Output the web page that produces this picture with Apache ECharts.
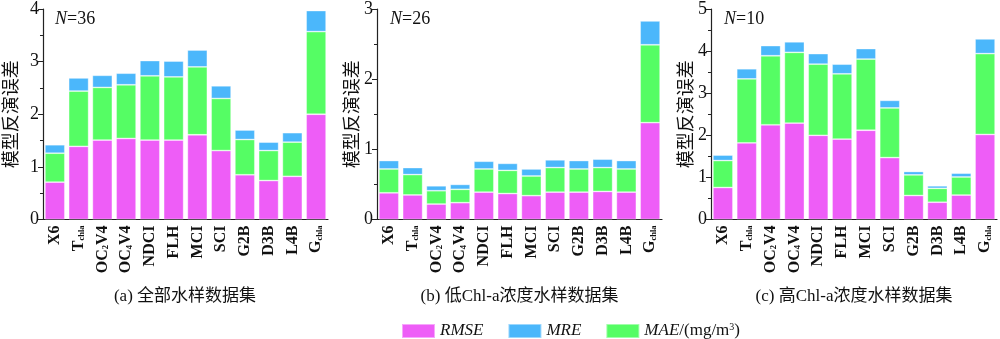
<!DOCTYPE html>
<html>
<head>
<meta charset="utf-8">
<script src="https://cdn.jsdelivr.net/npm/echarts@6/dist/echarts.min.js"></script>
<style>
  html, body { margin: 0; padding: 0; background: #fff; }
  #chart { width: 1000px; height: 339px; }
</style>
</head>
<body>
<div id="chart"></div>
<script>
// Retrieval algorithms (x-axis categories)
const categories = ['X6', 'Tchla', 'OC2V4', 'OC4V4', 'NDCI', 'FLH', 'MCI', 'SCI', 'G2B', 'D3B', 'L4B', 'Gchla'];

// (a) all samples, N=36
const rmseAll = [0.71, 1.39, 1.51, 1.54, 1.51, 1.51, 1.61, 1.31, 0.85, 0.74, 0.82, 2.00];
const maeAll  = [0.55, 1.05, 1.00, 1.02, 1.22, 1.20, 1.29, 0.99, 0.67, 0.57, 0.65, 1.57];
const mreAll  = [0.16, 0.25, 0.23, 0.22, 0.29, 0.30, 0.32, 0.24, 0.18, 0.16, 0.18, 0.40];

// (b) low Chl-a samples, N=26
const rmseLow = [0.38, 0.35, 0.22, 0.24, 0.39, 0.37, 0.34, 0.39, 0.39, 0.40, 0.39, 1.38];
const maeLow  = [0.34, 0.29, 0.19, 0.19, 0.33, 0.33, 0.28, 0.35, 0.33, 0.34, 0.33, 1.11];
const mreLow  = [0.12, 0.10, 0.07, 0.07, 0.11, 0.10, 0.10, 0.11, 0.12, 0.12, 0.12, 0.34];

// (c) high Chl-a samples, N=10
const rmseHigh = [0.76, 1.82, 2.25, 2.29, 2.00, 1.91, 2.12, 1.47, 0.57, 0.41, 0.58, 2.02];
const maeHigh  = [0.64, 1.52, 1.64, 1.68, 1.69, 1.55, 1.69, 1.18, 0.49, 0.33, 0.43, 1.92];
const mreHigh  = [0.13, 0.24, 0.24, 0.25, 0.25, 0.23, 0.25, 0.18, 0.08, 0.06, 0.09, 0.35];

const panels = [
  { n: 'N', count: '=36', title: '(a) 全部水样数据集', max: 4, rmse: rmseAll, mae: maeAll, mre: mreAll },
  { n: 'N', count: '=26', title: '(b) 低Chl-a浓度水样数据集', max: 3, rmse: rmseLow, mae: maeLow, mre: mreLow },
  { n: 'N', count: '=10', title: '(c) 高Chl-a浓度水样数据集', max: 5, rmse: rmseHigh, mae: maeHigh, mre: mreHigh }
];

const SERIF = '"Liberation Serif", "Times New Roman", serif';
const CJK = '"Noto Sans CJK SC", sans-serif';
const COLORS = { rmse: '#EE5DF7', mre: '#4BB7FB', mae: '#55FD64' };

const gridPos = [
  { left: 42, width: 286, nameGap: 24 },
  { left: 377, width: 285, nameGap: 17 },
  { left: 711, width: 286, nameGap: 16 }
];

// category labels with subscripts, drawn as rich text
function catLabel(v) {
  const map = {
    'Tchla': '{b|T}{s|chla}',
    'OC2V4': '{b|OC}{s|2}{b|V4}',
    'OC4V4': '{b|OC}{s|4}{b|V4}',
    'Gchla': '{b|G}{s|chla}'
  };
  return map[v] || '{b|' + v + '}';
}

const grids = [], xAxes = [], yAxes = [], series = [], graphics = [];

panels.forEach((p, i) => {
  grids.push({ left: gridPos[i].left, width: gridPos[i].width, top: 9, height: 210.5 });
  xAxes.push({
    type: 'category', gridIndex: i, data: categories,
    axisLine: { lineStyle: { color: '#222', width: 1.2 } },
    axisTick: { show: false },
    axisLabel: {
      rotate: 90, margin: 6, interval: 0,
      formatter: catLabel,
      rich: {
        b: { fontFamily: SERIF, fontSize: 16, color: '#111', fontWeight: 'bold' },
        s: { fontFamily: SERIF, fontSize: 8.5, color: '#111', fontWeight: 'bold', verticalAlign: 'bottom', padding: [6, 0, 0, 0] }
      }
    }
  });
  yAxes.push({
    type: 'value', gridIndex: i, min: 0, max: p.max, interval: 1,
    name: '模型反演误差', nameLocation: 'middle', nameGap: gridPos[i].nameGap,
    nameTextStyle: { fontFamily: CJK, fontSize: 18, color: '#111' },
    axisLine: { show: true, lineStyle: { color: '#222', width: 1.2 } },
    axisTick: { show: true, inside: false, length: 5, lineStyle: { color: '#222' } },
    minorTick: { show: true, splitNumber: 2, length: 3, lineStyle: { color: '#222' } },
    splitLine: { show: false },
    axisLabel: { fontFamily: SERIF, fontSize: 18, color: '#111', margin: 4 }
  });
  const common = {
    type: 'bar', xAxisIndex: i, yAxisIndex: i, stack: 'err' + i,
    barCategoryGap: '16%'
  };
  series.push(Object.assign({}, common, {
    name: 'RMSE', data: p.rmse,
    itemStyle: { color: COLORS.rmse, borderColor: 'rgba(255,255,255,0.45)', borderWidth: 0.8 }
  }));
  series.push(Object.assign({}, common, {
    name: 'MAE', data: p.mae,
    itemStyle: { color: COLORS.mae, borderColor: 'rgba(255,255,255,0.45)', borderWidth: 0.8 }
  }));
  series.push(Object.assign({}, common, {
    name: 'MRE', data: p.mre,
    itemStyle: { color: COLORS.mre, borderColor: 'rgba(255,255,255,0.45)', borderWidth: 0.8 }
  }));

  // sample count in the upper-left corner of each panel
  graphics.push({
    type: 'text', left: gridPos[i].left + 13, top: 10,
    style: {
      text: '{i|' + p.n + '}{r|' + p.count + '}',
      rich: {
        i: { fontFamily: SERIF, fontSize: 18, fontStyle: 'italic', fill: '#111' },
        r: { fontFamily: SERIF, fontSize: 18, fill: '#111' }
      }
    }
  });
  // panel caption
  graphics.push({
    type: 'text', x: gridPos[i].left + gridPos[i].width / 2, y: 297,
    style: {
      text: p.title, textAlign: 'center', textVerticalAlign: 'middle',
      font: '17px ' + SERIF + ', ' + CJK, fill: '#111'
    }
  });
});

const option = {
  animation: false,
  backgroundColor: '#fff',
  grid: grids,
  xAxis: xAxes,
  yAxis: yAxes,
  series: series,
  legend: {
    data: ['RMSE', 'MRE', 'MAE'],
    left: 396, top: 317,
    itemWidth: 33, itemHeight: 14, itemGap: 24,
    icon: 'rect',
    formatter: function (name) {
      return name === 'MAE' ? '{i|MAE}{r|/(mg/m}{sup|3}{r|)}' : '{i|' + name + '}';
    },
    textStyle: {
      rich: {
        i: { fontFamily: SERIF, fontSize: 17, fontStyle: 'italic', color: '#111' },
        r: { fontFamily: SERIF, fontSize: 17, color: '#111' },
        sup: { fontFamily: SERIF, fontSize: 10, color: '#111', verticalAlign: 'top', padding: [0, 0, 8, 0] }
      }
    }
  },
  graphic: graphics
};

const chart = echarts.init(document.getElementById('chart'), null, { renderer: 'canvas' });
chart.setOption(option);
</script>
</body>
</html>
